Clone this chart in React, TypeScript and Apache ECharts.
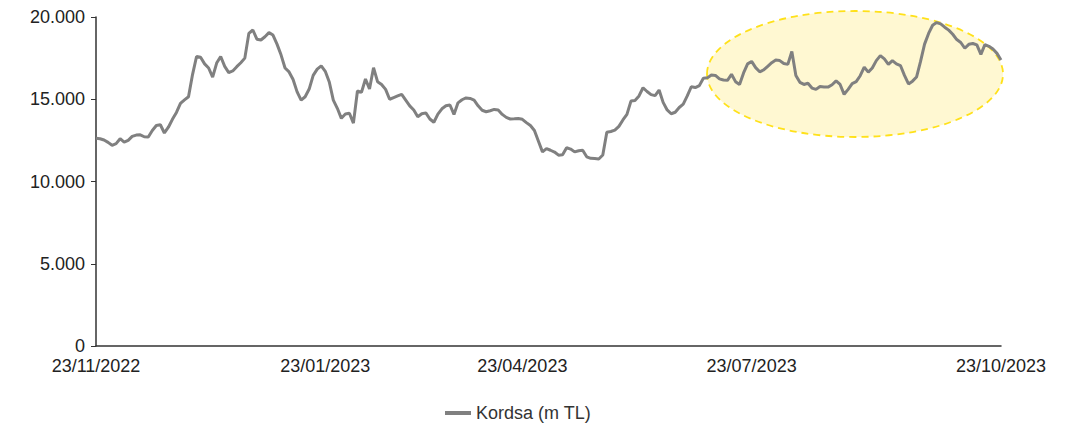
import React, { useEffect, useRef } from "react";
import * as echarts from "echarts";

// Kordsa market value (m TL), sampled evenly across the period
const values: number[] = [
  12630, 12600, 12520, 12380, 12200, 12300, 12600, 12390, 12500, 12740,
  12820, 12840, 12720, 12700, 13100, 13400, 13450, 12950, 13300, 13780,
  14200, 14750, 14960, 15150, 16500, 17600, 17550, 17150, 16900, 16350,
  17200, 17600, 17000, 16620, 16720, 16980, 17220, 17500, 19000, 19210,
  18650, 18600, 18800, 19050, 18900, 18350, 17700, 16900, 16660, 16200,
  15450, 14950, 15150, 15620, 16450, 16830, 17030, 16700, 16050, 14950,
  14450, 13840, 14100, 14150, 13550, 15500, 15420, 16230, 15620, 16920,
  16070, 15900, 15600, 15000, 15100, 15200, 15300, 14950, 14600, 14350,
  13940, 14120, 14170, 13800, 13600, 14100, 14420, 14600, 14650, 14080,
  14780, 14970, 15080, 15050, 14950, 14600, 14330, 14240, 14300, 14380,
  14350, 14080, 13900, 13800, 13810, 13830, 13780, 13580, 13400, 13100,
  12450, 11800, 12000, 11900, 11790, 11600, 11620, 12050, 11970, 11800,
  11870, 11900, 11500, 11410, 11400, 11370, 11610, 12990, 13040, 13120,
  13350, 13740, 14080, 14890, 14930, 15200, 15700, 15470, 15280, 15220,
  15560, 14810, 14350, 14120, 14210, 14500, 14700, 15200, 15760, 15710,
  15830, 16280, 16300, 16470, 16450, 16240, 16170, 16150, 16520, 16070,
  15900, 16600, 17150, 17300, 16920, 16670, 16780, 17000, 17220, 17380,
  17350, 17170, 17120, 17900, 16450, 16030, 15900, 15970, 15680, 15600,
  15780, 15750, 15740, 15880, 16120, 15900, 15300, 15600, 15950, 16070,
  16430, 16950, 16650, 16900, 17350, 17650, 17450, 17120, 17350, 17150,
  17050, 16450, 15930, 16100, 16350, 17300, 18350, 19000, 19500, 19660,
  19580, 19380, 19200, 18950, 18630, 18450, 18100, 18340, 18390, 18300,
  17730, 18320, 18220, 18050, 17790, 17390,
];

// Date labels and the sample index where each falls
const tickLabels: string[] = ["23/11/2022", "23/01/2023", "23/04/2023", "23/07/2023", "23/10/2023"];
const tickIndices: number[] = [0, 57, 106, 163, 225];

const seriesName = "Kordsa (m TL)";

const FONT = "'Liberation Sans', Arial, sans-serif";

export default function App() {
  const ref = useRef<HTMLDivElement>(null);

  useEffect(() => {
    document.body.style.margin = "0";
    if (!ref.current) return;
    const chart = echarts.init(ref.current, undefined, { renderer: "svg" });
    const data = values.map((v, i) => [i, v]);
    const labelMap: Record<number, string> = {};
    tickIndices.forEach((idx, k) => (labelMap[idx] = tickLabels[k]));

    chart.setOption({
      animation: false,
      textStyle: { fontFamily: FONT },
      grid: { left: 96, right: 70, top: 17, bottom: 79, containLabel: false },
      graphic: [
        {
          type: "ellipse",
          z: 0,
          silent: true,
          shape: { cx: 855, cy: 74, rx: 148, ry: 63 },
          style: {
            fill: "#FFF8D2",
            stroke: "#FFE11A",
            lineWidth: 1.8,
            lineDash: [7, 5],
          },
        },
      ],
      legend: {
        show: true,
        top: 399,
        left: 440,
        icon: "rect",
        itemWidth: 26,
        itemHeight: 4,
        itemGap: 10,
        textStyle: { fontFamily: FONT, fontSize: 18, color: "#333333" },
        data: [seriesName],
      },
      xAxis: {
        type: "value",
        min: 0,
        max: values.length - 1,
        splitLine: { show: false },
        axisLine: { show: true, lineStyle: { color: "#333333", width: 1.5 } },
        axisTick: { show: false },
        axisLabel: {
          customValues: tickIndices,
          formatter: (v: number) => labelMap[Math.round(v)] ?? "",
          fontFamily: FONT,
          fontSize: 18,
          color: "#222222",
          margin: 11,
          showMinLabel: true,
          showMaxLabel: true,
        },
      },
      yAxis: {
        type: "value",
        min: 0,
        max: 20000,
        interval: 5000,
        splitLine: { show: false },
        axisLine: { show: true, lineStyle: { color: "#333333", width: 1.5 } },
        axisTick: { show: true, length: 5, lineStyle: { color: "#333333" } },
        axisLabel: {
          formatter: (v: number) => (v === 0 ? "0" : v.toLocaleString("de-DE")),
          fontFamily: FONT,
          fontSize: 18,
          color: "#222222",
          margin: 11,
        },
      },
      series: [
        {
          name: seriesName,
          type: "line",
          z: 5,
          data,
          showSymbol: false,
          symbol: "none",
          lineStyle: { color: "#808080", width: 3 },
          itemStyle: { color: "#808080" },
        },
      ],
    });
    return () => chart.dispose();
  }, []);

  return <div ref={ref} style={{ width: 1071, height: 425 }} />;
}
